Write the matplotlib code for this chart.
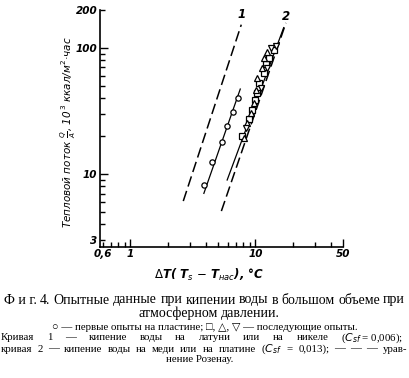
import matplotlib
matplotlib.use("Agg")
import matplotlib.pyplot as plt
from matplotlib.ticker import FixedLocator, FuncFormatter


# dashed curves (Rohsenow correlation), endpoints
curve1_dt = [2.65, 7.7]
curve1_q = [6.1, 153.0]
curve2_dt = [5.34, 17.5]
curve2_q = [5.08, 158.0]

# solid fit lines through the data
fit_circ_dt = [3.87, 7.56]
fit_circ_q = [7.02, 47.2]
fit_rest_dt = [5.94, 16.8]
fit_rest_q = [8.96, 145.0]

# first runs on the plate
circ_dt = [3.87, 4.50, 5.40, 5.92, 6.57, 7.20]
circ_q = [8.2, 12.4, 17.9, 23.9, 31.3, 40.3]

# later runs
sq_dt = [7.85, 8.88, 9.43, 10.0, 10.3, 10.7, 11.7, 12.1, 12.8, 14.0]
sq_q = [20.1, 27.2, 32.3, 38.8, 43.9, 53.0, 63.3, 75.0, 83.3, 96.9]
tri_dt = [8.1, 8.61, 9.16, 9.73, 10.1, 10.3, 11.3, 11.8, 12.3]
tri_q = [19.3, 25.3, 30.4, 36.5, 46.6, 57.7, 69.3, 83.2, 92.3]
tdn_dt = [8.36, 11.1, 12.3, 13.4, 14.5]
tdn_q = [23.2, 48.3, 69.7, 100.0, 103.0]

x_major = [1, 10, 50]
x_minor = [0.6, 0.7, 0.8, 0.9, 2, 3, 4, 5, 6, 7, 8, 9, 20, 30, 40]
x_labels = {0.6: "0,6", 1: "1", 10: "10", 50: "50"}
y_major = [10, 100]
y_minor = [3, 4, 5, 6, 7, 8, 9, 20, 30, 40, 50, 60, 70, 80, 90, 200]
y_labels = {3: "3", 10: "10", 100: "100", 200: "200"}

W, H = 409, 378
SERIF = ["Liberation Serif", "DejaVu Serif"]


def lab(v, labels):
    for k, s in labels.items():
        if abs(v - k) < 1e-6 * k:
            return s
    return ""


def put_line(fig, words, y, x0, x1, size, justify=True, center=None):
    r = fig.canvas.get_renderer()
    ts = [fig.text(0, 1 - y / H, w, fontsize=size, family=SERIF, va="center")
          for w in words]
    ws = [t.get_window_extent(r).width for t in ts]
    if justify and len(words) > 1:
        gap = ((x1 - x0) - sum(ws)) / (len(words) - 1)
        x = x0
    else:
        sp = size * 0.35
        tot = sum(ws) + sp * (len(words) - 1)
        gap = sp
        x = center - tot / 2
    for t, w in zip(ts, ws):
        t.set_x(x / W)
        x += w + gap


def main():
    fig = plt.figure(figsize=(W / 100, H / 100), dpi=100)
    ax = fig.add_axes([100 / W, 1 - 246.7 / H, 243 / W, 236.7 / H])
    ax.set_xscale("log")
    ax.set_yscale("log")
    ax.set_xlim(0.573, 50)
    ax.set_ylim(2.65, 200)

    dash = (0, (7, 3))
    ax.plot(curve1_dt, curve1_q, color="black", lw=1.1, linestyle=dash)
    ax.plot(curve2_dt, curve2_q, color="black", lw=1.1, linestyle=dash)
    ax.plot(fit_circ_dt, fit_circ_q, color="black", lw=0.9)
    ax.plot(fit_rest_dt, fit_rest_q, color="black", lw=0.9)

    ax.plot(circ_dt, circ_q, "o", ms=3.8, mfc="white", mec="black", mew=0.9)
    ax.plot(sq_dt, sq_q, "s", ms=4, mfc="white", mec="black", mew=0.9)
    ax.plot(tri_dt, tri_q, "^", ms=4.5, mfc="white", mec="black", mew=0.9)
    ax.plot(tdn_dt, tdn_q, "v", ms=4.5, mfc="white", mec="black", mew=0.9)

    tkw = dict(fontsize=8.5, fontstyle="italic", fontweight="bold")
    ax.text(7.81, 184, "1", ha="center", va="center", **tkw)
    ax.text(17.5, 177, "2", ha="center", va="center", **tkw)

    for s in ["top", "right"]:
        ax.spines[s].set_visible(False)
    for s in ["left", "bottom"]:
        ax.spines[s].set_linewidth(1.2)

    ax.xaxis.set_major_locator(FixedLocator(x_major))
    ax.xaxis.set_minor_locator(FixedLocator(x_minor))
    ax.yaxis.set_major_locator(FixedLocator(y_major))
    ax.yaxis.set_minor_locator(FixedLocator(y_minor))
    ax.xaxis.set_major_formatter(FuncFormatter(lambda v, p: lab(v, x_labels)))
    ax.xaxis.set_minor_formatter(FuncFormatter(lambda v, p: lab(v, x_labels)))
    ax.yaxis.set_major_formatter(FuncFormatter(lambda v, p: lab(v, y_labels)))
    ax.yaxis.set_minor_formatter(FuncFormatter(lambda v, p: lab(v, y_labels)))
    ax.tick_params(which="both", direction="in", width=1.0, pad=2, labelsize=7.5)
    ax.tick_params(which="major", length=6)
    ax.tick_params(which="minor", length=3.5)
    for t in ax.get_xticklabels(which="both") + ax.get_yticklabels(which="both"):
        t.set_fontstyle("italic")
        t.set_fontweight("bold")

    fig.text(68 / W, 1 - 132 / H,
             r"Тепловой поток $\frac{Q}{A}$, 10$^{\,3}$ ккал/м$^2$·час",
             rotation=90, ha="center", va="center", fontsize=7.5,
             fontstyle="italic")
    fig.text(209 / W, 1 - 275 / H, r"$\Delta$T( T$_s$ $-$ T$_{нас}$), °C",
             ha="center", va="center", fontsize=8.5, fontstyle="italic",
             fontweight="bold")

    fig.canvas.draw()
    put_line(fig, ["Ф и г.", "4.", "Опытные", "данные", "при", "кипении", "воды",
                   "в", "большом", "объеме", "при"], 300, 4, 405, 10)
    put_line(fig, ["атмосферном", "давлении."], 313, 0, 0, 10,
             justify=False, center=209)
    put_line(fig, ["○ — первые опыты на пластине; □, △, ▽ — последующие опыты."],
             328, 0, 0, 7.8, justify=False, center=205)
    put_line(fig, ["Кривая", "1", "—", "кипение", "воды", "на",
                   "латуни", "или", "на", "никеле",
                   "($C_{sf}$ = 0,006);"], 338, 1, 403, 7.8)
    put_line(fig, ["кривая", "2", "—", "кипение", "воды", "на", "меди",
                   "или", "на", "платине", "($C_{sf}$", "=", "0,013);", "—", "—",
                   "—", "урав-"], 349, 1, 407, 7.8)
    put_line(fig, ["нение Розенау."], 360, 0, 0, 7.8, justify=False, center=200)

    fig.savefig("out.png", dpi=100)


if __name__ == "__main__":
    main()
